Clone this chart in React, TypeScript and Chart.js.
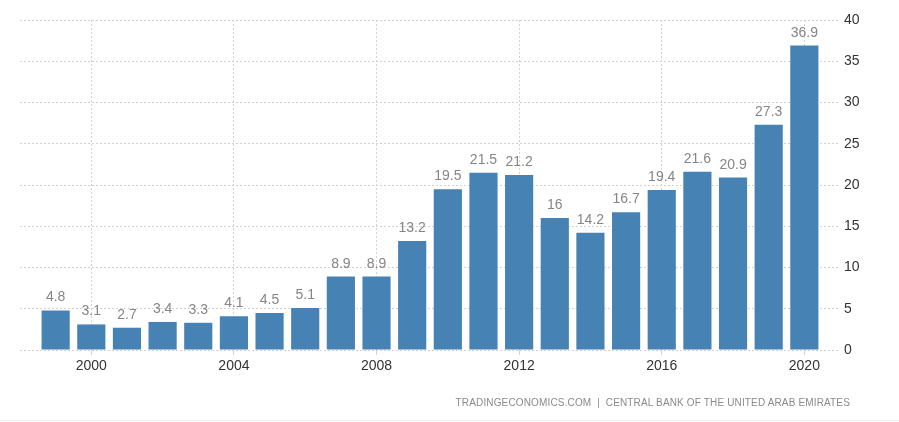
import React, { useEffect, useRef } from "react";
import { Chart, registerables } from "chart.js";

Chart.register(...registerables);

const years: number[] = [1999, 2000, 2001, 2002, 2003, 2004, 2005, 2006, 2007, 2008, 2009, 2010, 2011, 2012, 2013, 2014, 2015, 2016, 2017, 2018, 2019, 2020];
const values: number[] = [4.8, 3.1, 2.7, 3.4, 3.3, 4.1, 4.5, 5.1, 8.9, 8.9, 13.2, 19.5, 21.5, 21.2, 16, 14.2, 16.7, 19.4, 21.6, 20.9, 27.3, 36.9];
const xTicks: number[] = [2000, 2004, 2008, 2012, 2016, 2020];
const yTicks: number[] = [0, 5, 10, 15, 20, 25, 30, 35, 40];
const sourceText = "TRADINGECONOMICS.COM  |  CENTRAL BANK OF THE UNITED ARAB EMIRATES";

const FONT = "'Liberation Sans', Arial, sans-serif";

const valueLabels = {
  id: "valueLabels",
  afterDatasetsDraw(chart: any) {
    const ctx = chart.ctx;
    const meta = chart.getDatasetMeta(0);
    ctx.save();
    ctx.font = `14px ${FONT}`;
    ctx.fillStyle = "#858585";
    ctx.textAlign = "center";
    ctx.textBaseline = "alphabetic";
    meta.data.forEach((bar: any, i: number) => {
      ctx.fillText(String(values[i]), bar.x, bar.y - 9);
    });
    ctx.restore();
  },
};

export default function App() {
  const ref = useRef<HTMLCanvasElement | null>(null);

  useEffect(() => {
    if (!ref.current) return;
    const chart = new Chart(ref.current, {
      type: "bar",
      data: {
        datasets: [
          {
            data: years.map((y, i) => ({ x: y, y: values[i] })),
            backgroundColor: "#4682b4",
            borderWidth: 0,
            categoryPercentage: 1,
            barPercentage: 0.79,
          },
        ],
      },
      options: {
        animation: false,
        responsive: false,
        maintainAspectRatio: false,
        layout: { padding: { left: 20, top: 20, right: 0, bottom: 42 } },
        plugins: { legend: { display: false }, tooltip: { enabled: false } },
        scales: {
          x: {
            type: "linear",
            min: 1998,
            max: 2021,
            offset: false,
            afterBuildTicks: (scale: any) => {
              scale.ticks = xTicks.map((v) => ({ value: v }));
            },
            afterFit: (scale: any) => {
              scale.height = 30;
            },
            ticks: {
              callback: (v: any) => String(v),
              font: { family: FONT, size: 14 },
              color: "#333333",
              padding: 3,
              maxRotation: 0,
            },
            grid: {
              color: "#d2d2d2",
              tickLength: 5,
              offset: false,
            },
            border: { display: false, dash: [2, 2] },
          },
          y: {
            position: "right",
            min: 0,
            max: 40,
            afterBuildTicks: (scale: any) => {
              scale.ticks = yTicks.map((v) => ({ value: v }));
            },
            afterFit: (scale: any) => {
              scale.width = 59;
            },
            ticks: {
              font: { family: FONT, size: 14 },
              color: "#333333",
              padding: 4,
            },
            grid: { color: "#d2d2d2", drawTicks: false },
            border: { display: false, dash: [2, 2] },
          },
        },
      },
      plugins: [valueLabels],
    });
    return () => chart.destroy();
  }, []);

  return (
    <div style={{ position: "fixed", left: 0, top: 0, width: 899, height: 422, background: "#fff" }}>
      <canvas ref={ref} width={899} height={422} style={{ width: 899, height: 422, display: "block" }} />
      <div
        style={{
          position: "absolute",
          right: 49,
          top: 397,
          fontFamily: FONT,
          fontSize: 10,
          letterSpacing: 0.15,
          color: "#8a8a8a",
          whiteSpace: "pre",
        }}
      >
        {sourceText}
      </div>
      <div style={{ position: "absolute", left: 0, right: 0, top: 420, height: 1, background: "#eeeeee" }} />
    </div>
  );
}
